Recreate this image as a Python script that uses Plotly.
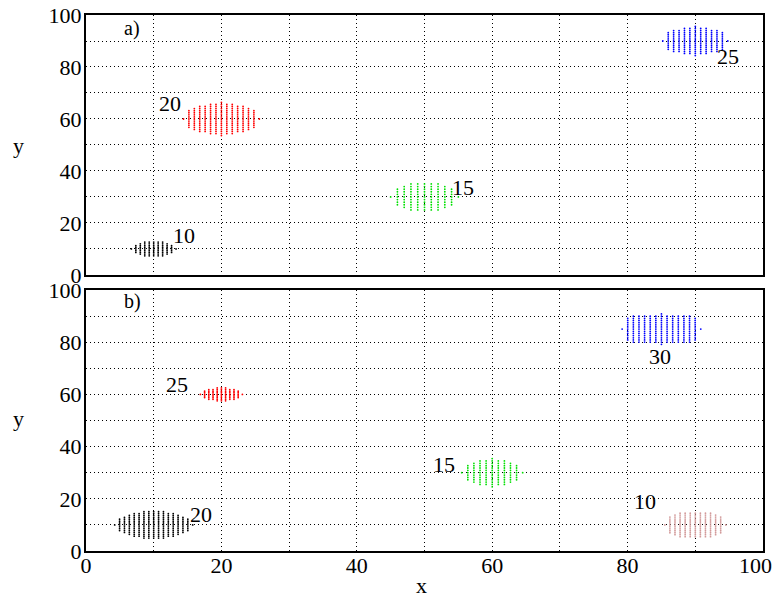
import numpy as np
import plotly.graph_objects as go

# ---------------- data ----------------
# Each cluster: centre, column spacing, dots above/below centre for every column
a_cx = [10, 20, 50, 90]
a_cy = [10, 60, 30, 90]
a_step = [0.66, 0.80, 1.00, 0.80]
a_counts = [
    [0, 2, 3, 4, 4, 4, 4, 4, 3, 2, 0],
    [0, 4, 5, 6, 6, 7, 7, 8, 7, 7, 6, 6, 5, 4, 0],
    [0, 3, 4, 5, 5, 5, 5, 5, 4, 3, 0],
    [0, 4, 5, 5, 6, 6, 7, 6, 6, 5, 5, 4, 0],
]
a_colors = ["#000000", "#ff0000", "#00e000", "#0000ff"]
a_labels = ["10", "20", "15", "25"]
a_lx = [14.5, 12.4, 55.7, 94.8]
a_ly = [15.0, 65.8, 33.8, 84.0]

b_cx = [10, 20, 60, 85, 90]
b_cy = [10, 60, 30, 85, 10]
b_step = [0.72, 0.62, 0.90, 0.83, 0.75]
b_counts = [
    [0, 3, 4, 5, 6, 6, 7, 7, 7, 7, 7, 6, 6, 5, 4, 3, 0],
    [0, 2, 3, 3, 4, 4, 4, 3, 3, 2, 0],
    [0, 3, 4, 5, 5, 6, 5, 5, 4, 3, 0],
    [0, 5, 6, 6, 6, 6, 6, 7, 6, 6, 6, 6, 6, 5, 0],
    [0, 4, 5, 6, 6, 6, 6, 6, 6, 6, 5, 4, 0],
]
b_colors = ["#000000", "#ff0000", "#00e000", "#0000ff", "#d29a9a"]
b_labels = ["20", "25", "15", "30", "10"]
b_lx = [17.0, 13.4, 52.9, 84.8, 82.6]
b_ly = [13.8, 63.6, 33.0, 74.7, 18.8]

x_ticks = [0, 20, 40, 60, 80, 100]
x_tick_labels = ["0", "20", "40", "60", "80", "100"]
y_ticks = [0, 20, 40, 60, 80, 100]

FONT = "Liberation Serif"


def cluster_points(cx, cy, step, counts):
    xs, ys = [], []
    half = (len(counts) - 1) / 2
    for i, n in enumerate(counts):
        x = cx + (i - half) * step
        for j in range(-n, n + 1):
            xs.append(x)
            ys.append(cy + j * step)
    return xs, ys


fig = go.Figure()

for cx, cy, st, cn, col in zip(a_cx, a_cy, a_step, a_counts, a_colors):
    xs, ys = cluster_points(cx, cy, st, cn)
    fig.add_trace(go.Scatter(x=xs, y=ys, mode="markers", xaxis="x", yaxis="y",
                             marker=dict(size=1.8, color=col, line=dict(width=0)),
                             showlegend=False, hoverinfo="skip"))
for cx, cy, st, cn, col in zip(b_cx, b_cy, b_step, b_counts, b_colors):
    xs, ys = cluster_points(cx, cy, st, cn)
    fig.add_trace(go.Scatter(x=xs, y=ys, mode="markers", xaxis="x2", yaxis="y2",
                             marker=dict(size=1.8, color=col, line=dict(width=0)),
                             showlegend=False, hoverinfo="skip"))

LF = dict(family=FONT, size=22, color="black")
ann = []
for t, x, y in zip(a_labels, a_lx, a_ly):
    ann.append(dict(text=t, x=x, y=y, xref="x", yref="y", showarrow=False,
                    xanchor="center", yanchor="middle", font=LF))
for t, x, y in zip(b_labels, b_lx, b_ly):
    ann.append(dict(text=t, x=x, y=y, xref="x2", yref="y2", showarrow=False,
                    xanchor="center", yanchor="middle", font=LF))
ann.append(dict(text="a)", x=6.8, y=95, xref="x", yref="y", showarrow=False,
                xanchor="center", yanchor="middle",
                font=dict(family=FONT, size=20, color="black")))
ann.append(dict(text="b)", x=6.8, y=95.4, xref="x2", yref="y2", showarrow=False,
                xanchor="center", yanchor="middle",
                font=dict(family=FONT, size=20, color="black")))
ann.append(dict(text="y", x=-0.1, y=0.757, xref="paper", yref="paper",
                showarrow=False, xanchor="center", yanchor="middle", font=LF))
ann.append(dict(text="y", x=-0.1, y=0.248, xref="paper", yref="paper",
                showarrow=False, xanchor="center", yanchor="middle", font=LF))
ann.append(dict(text="x", x=0.495, y=-0.064, xref="paper", yref="paper",
                showarrow=False, xanchor="center", yanchor="middle", font=LF))
# last x tick label kept inside the page (as in the reference)
ann.append(dict(text=x_tick_labels[-1], x=x_ticks[-1], y=0, xref="x2", yref="y2",
                showarrow=False, xanchor="right", yanchor="top", xshift=11,
                yshift=0, font=LF))

common = dict(range=[0, 100], showline=True, mirror=True, linecolor="black",
              linewidth=2, showgrid=True, gridcolor="black", gridwidth=1,
              griddash="1px,3px", zeroline=False, ticks="", automargin=False,
              minor=dict(dtick=10, showgrid=True, gridcolor="black",
                         gridwidth=1, griddash="1px,3px", ticks=""),
              tickfont=dict(family=FONT, size=22, color="black"))

fig.update_layout(
    width=775, height=597,
    margin=dict(l=86, r=12, t=15, b=46),
    paper_bgcolor="white", plot_bgcolor="white",
    xaxis=dict(common, anchor="y", domain=[0, 1], showticklabels=False,
               tickvals=x_ticks),
    yaxis=dict(common, anchor="x", domain=[0.515, 1], tickvals=y_ticks,
               ticklabelstandoff=-2),
    xaxis2=dict(common, anchor="y2", domain=[0, 1], tickvals=x_ticks,
                ticktext=x_tick_labels[:-1] + [""], ticklabelstandoff=-6),
    yaxis2=dict(common, anchor="x2", domain=[0, 0.487], tickvals=y_ticks,
                ticklabelstandoff=-2),
    annotations=ann,
)

fig.write_html("out.html")
